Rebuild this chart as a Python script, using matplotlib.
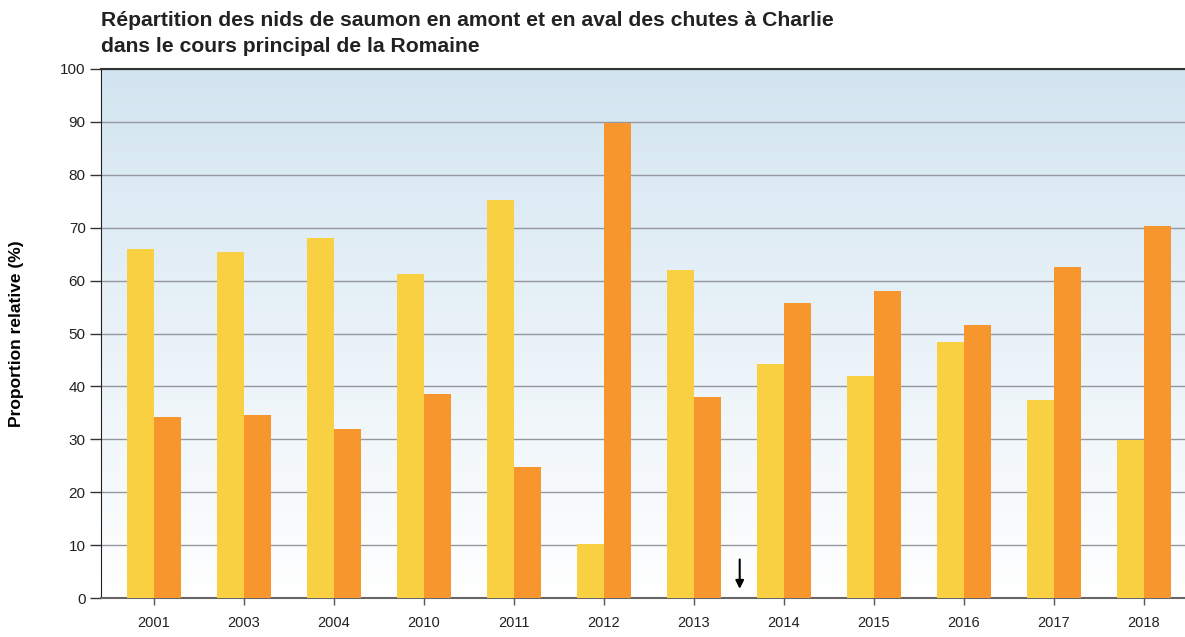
import numpy as np
import matplotlib
matplotlib.use("Agg")
from matplotlib import pyplot as plt
from matplotlib.colors import LinearSegmentedColormap

plt.rcParams['font.family'] = ['Liberation Sans', 'DejaVu Sans']

# data
years = ['2001', '2003', '2004', '2010', '2011', '2012', '2013', '2014', '2015', '2016', '2017', '2018']
amont = [66.0, 65.5, 68.1, 61.3, 75.2, 10.2, 62.0, 44.2, 42.0, 48.3, 37.5, 29.8]
aval = [34.2, 34.6, 32.0, 38.6, 24.8, 89.8, 38.0, 55.8, 58.0, 51.7, 62.5, 70.3]

yellow = '#f9d042'
orange = '#f7962d'

fig = plt.figure(figsize=(11.85, 6.37), dpi=100)
ax = fig.add_axes([101/1185, 1 - 598/637, 1084/1185, 529/637])

# fond en degrade
cmap = LinearSegmentedColormap.from_list('bg', ['#ffffff', '#d3e5f1'])
grad = np.linspace(0, 1, 256).reshape(-1, 1)
ax.imshow(grad, aspect='auto', cmap=cmap, origin='lower',
          extent=[0, 1, 0, 1], transform=ax.transAxes, zorder=0)

x = np.arange(len(years))
w = 0.3
ax.bar(x - w/2, amont, w, color=yellow, zorder=3)
ax.bar(x + w/2, aval, w, color=orange, zorder=3)

ax.set_xlim(-0.59, 11.46)
ax.set_ylim(0, 100)
ax.set_yticks(range(0, 101, 10))
ax.set_xticks(x)
ax.set_xticklabels(years)
ax.yaxis.grid(True, color='#94989e', lw=1.0, zorder=1)

ax.spines['right'].set_visible(False)
ax.spines['top'].set_color('#333333')
ax.spines['top'].set_linewidth(1.5)
ax.spines['left'].set_color('#222222')
ax.spines['bottom'].set_color('#666666')
ax.spines['bottom'].set_linewidth(1.5)
ax.tick_params(axis='y', length=8, width=1, color='#333333', labelsize=11, pad=3, labelcolor='#222222')
ax.tick_params(axis='x', length=5, width=1, color='#555555', labelsize=10.5, pad=8, labelcolor='#222222')

ax.set_ylabel('Proportion relative (%)', fontsize=12.5, fontweight='bold', labelpad=26)

# fleche entre 2013 et 2014
ax.annotate('', xy=(6.51, 1.2), xytext=(6.51, 7.8),
            arrowprops=dict(arrowstyle='-|>', color='black', lw=1.5, mutation_scale=12),
            zorder=5)

fig.text(101/1185, 1 - 21/637, 'Répartition des nids de saumon en amont et en aval des chutes à Charlie',
         fontsize=15.2, fontweight='bold', color='#222222', va='center')
fig.text(101/1185, 1 - 46/637, 'dans le cours principal de la Romaine',
         fontsize=15.2, fontweight='bold', color='#222222', va='center')

fig.savefig('out.png', dpi=100)
